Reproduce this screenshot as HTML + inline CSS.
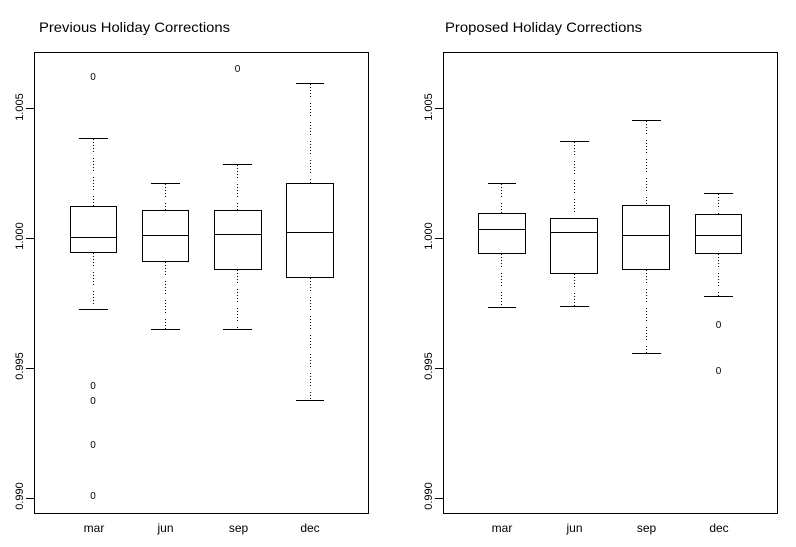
<!DOCTYPE html>
<html><head><meta charset="utf-8"><style>
html,body{margin:0;padding:0;background:#fff;}
svg{display:block;}
text{font-family:"Liberation Sans",Arial,sans-serif;fill:#000;}
</style></head><body>
<svg width="796" height="547" viewBox="0 0 796 547" xmlns="http://www.w3.org/2000/svg" shape-rendering="crispEdges">
<rect x="0" y="0" width="796" height="547" fill="#fff"/>

<!-- ===== LEFT PANEL ===== -->
<text x="39" y="32" font-size="14" textLength="191" lengthAdjust="spacingAndGlyphs">Previous Holiday Corrections</text>
<rect x="34.5" y="52.5" width="334" height="461" fill="none" stroke="#000" stroke-width="1"/>
<g stroke="#000" stroke-width="1">
<line x1="26" y1="108.5" x2="34" y2="108.5"/>
<line x1="26" y1="238.5" x2="34" y2="238.5"/>
<line x1="26" y1="368.5" x2="34" y2="368.5"/>
<line x1="26" y1="498.5" x2="34" y2="498.5"/>
</g>
<g font-size="11" text-anchor="middle">
<text transform="translate(23,107) rotate(-90)">1.005</text>
<text transform="translate(23,236) rotate(-90)">1.000</text>
<text transform="translate(23,366) rotate(-90)">0.995</text>
<text transform="translate(23,496) rotate(-90)">0.990</text>
</g>
<g font-size="12" text-anchor="middle">
<text x="94" y="532">mar</text>
<text x="165.5" y="532">jun</text>
<text x="238.5" y="532">sep</text>
<text x="310" y="532">dec</text>
</g>
<g stroke="#000" stroke-width="1" fill="none">
<!-- mar -->
<rect x="70.5" y="206.5" width="46" height="46"/>
<line x1="70" y1="237.5" x2="117" y2="237.5"/>
<line x1="93.5" y1="139" x2="93.5" y2="206" stroke-dasharray="1 2 1 2 1 2 1 2 1 6"/>
<line x1="93.5" y1="253" x2="93.5" y2="309" stroke-dasharray="1 2 1 2 1 2 1 2 1 6"/>
<line x1="79" y1="138.5" x2="108" y2="138.5"/>
<line x1="79" y1="309.5" x2="108" y2="309.5"/>
<!-- jun -->
<rect x="142.5" y="210.5" width="46" height="51"/>
<line x1="142" y1="235.5" x2="189" y2="235.5"/>
<line x1="165.5" y1="184" x2="165.5" y2="210" stroke-dasharray="1 2 1 2 1 2 1 2 1 6"/>
<line x1="165.5" y1="262" x2="165.5" y2="329" stroke-dasharray="1 2 1 2 1 2 1 2 1 6"/>
<line x1="151" y1="183.5" x2="180" y2="183.5"/>
<line x1="151" y1="329.5" x2="180" y2="329.5"/>
<!-- sep -->
<rect x="214.5" y="210.5" width="47" height="59"/>
<line x1="214" y1="234.5" x2="262" y2="234.5"/>
<line x1="237.5" y1="165" x2="237.5" y2="210" stroke-dasharray="1 2 1 2 1 2 1 2 1 6"/>
<line x1="237.5" y1="270" x2="237.5" y2="329" stroke-dasharray="1 2 1 2 1 2 1 2 1 6"/>
<line x1="223" y1="164.5" x2="252" y2="164.5"/>
<line x1="223" y1="329.5" x2="252" y2="329.5"/>
<!-- dec -->
<rect x="286.5" y="183.5" width="47" height="94"/>
<line x1="286" y1="232.5" x2="334" y2="232.5"/>
<line x1="310.5" y1="84" x2="310.5" y2="183" stroke-dasharray="1 2 1 2 1 2 1 2 1 6"/>
<line x1="310.5" y1="278" x2="310.5" y2="400" stroke-dasharray="1 2 1 2 1 2 1 2 1 6"/>
<line x1="296" y1="83.5" x2="324" y2="83.5"/>
<line x1="296" y1="400.5" x2="324" y2="400.5"/>
</g>
<g font-size="10" text-anchor="middle">
<text x="93" y="80">0</text>
<text x="93" y="389">0</text>
<text x="93" y="404">0</text>
<text x="93" y="448">0</text>
<text x="93" y="499">0</text>
<text x="237.5" y="72">0</text>
</g>

<!-- ===== RIGHT PANEL ===== -->
<text x="445" y="32" font-size="14" textLength="197" lengthAdjust="spacingAndGlyphs">Proposed Holiday Corrections</text>
<rect x="443.5" y="52.5" width="334" height="461" fill="none" stroke="#000" stroke-width="1"/>
<g stroke="#000" stroke-width="1">
<line x1="435" y1="108.5" x2="443" y2="108.5"/>
<line x1="435" y1="238.5" x2="443" y2="238.5"/>
<line x1="435" y1="368.5" x2="443" y2="368.5"/>
<line x1="435" y1="498.5" x2="443" y2="498.5"/>
</g>
<g font-size="11" text-anchor="middle">
<text transform="translate(432,107) rotate(-90)">1.005</text>
<text transform="translate(432,236) rotate(-90)">1.000</text>
<text transform="translate(432,366) rotate(-90)">0.995</text>
<text transform="translate(432,496) rotate(-90)">0.990</text>
</g>
<g font-size="12" text-anchor="middle">
<text x="502" y="532">mar</text>
<text x="574.5" y="532">jun</text>
<text x="646.5" y="532">sep</text>
<text x="719" y="532">dec</text>
</g>
<g stroke="#000" stroke-width="1" fill="none">
<!-- mar -->
<rect x="478.5" y="213.5" width="47" height="40"/>
<line x1="478" y1="229.5" x2="526" y2="229.5"/>
<line x1="501.5" y1="184" x2="501.5" y2="213" stroke-dasharray="1 2 1 2 1 2 1 2 1 6"/>
<line x1="501.5" y1="254" x2="501.5" y2="307" stroke-dasharray="1 2 1 2 1 2 1 2 1 6"/>
<line x1="488" y1="183.5" x2="516" y2="183.5"/>
<line x1="488" y1="307.5" x2="516" y2="307.5"/>
<!-- jun -->
<rect x="550.5" y="218.5" width="47" height="55"/>
<line x1="550" y1="232.5" x2="598" y2="232.5"/>
<line x1="574.5" y1="142" x2="574.5" y2="218" stroke-dasharray="1 2 1 2 1 2 1 2 1 6"/>
<line x1="574.5" y1="274" x2="574.5" y2="306" stroke-dasharray="1 2 1 2 1 2 1 2 1 6"/>
<line x1="560" y1="141.5" x2="589" y2="141.5"/>
<line x1="560" y1="306.5" x2="589" y2="306.5"/>
<!-- sep -->
<rect x="622.5" y="205.5" width="47" height="64"/>
<line x1="622" y1="235.5" x2="670" y2="235.5"/>
<line x1="646.5" y1="121" x2="646.5" y2="205" stroke-dasharray="1 2 1 2 1 2 1 2 1 6"/>
<line x1="646.5" y1="270" x2="646.5" y2="353" stroke-dasharray="1 2 1 2 1 2 1 2 1 6"/>
<line x1="632" y1="120.5" x2="661" y2="120.5"/>
<line x1="632" y1="353.5" x2="661" y2="353.5"/>
<!-- dec -->
<rect x="695.5" y="214.5" width="46" height="39"/>
<line x1="695" y1="235.5" x2="742" y2="235.5"/>
<line x1="718.5" y1="194" x2="718.5" y2="214" stroke-dasharray="1 2 1 2 1 2 1 2 1 6"/>
<line x1="718.5" y1="254" x2="718.5" y2="296" stroke-dasharray="1 2 1 2 1 2 1 2 1 6"/>
<line x1="704" y1="193.5" x2="733" y2="193.5"/>
<line x1="704" y1="296.5" x2="733" y2="296.5"/>
</g>
<g font-size="10" text-anchor="middle">
<text x="718.5" y="328">0</text>
<text x="718.5" y="374">0</text>
</g>
</svg>
</body></html>
